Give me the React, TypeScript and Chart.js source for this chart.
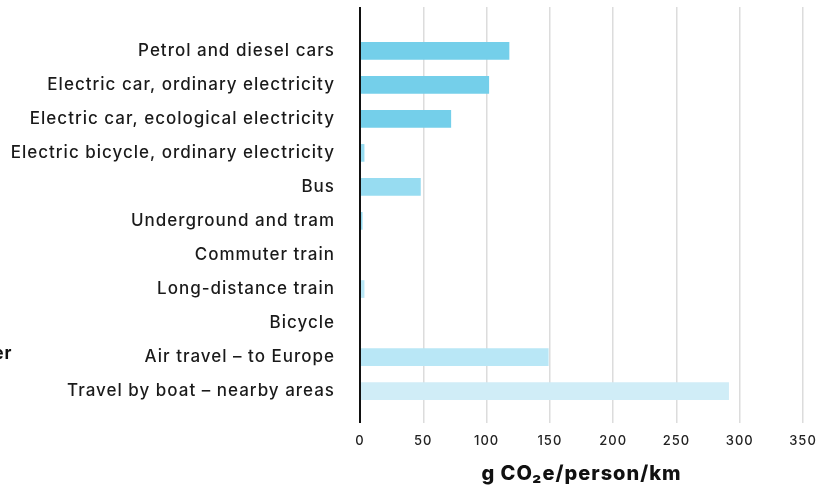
import React, { useEffect, useRef } from "react";
import { Chart, registerables } from "chart.js";

Chart.register(...registerables);

const categories = [
  "Petrol and diesel cars",
  "Electric car, ordinary electricity",
  "Electric car, ecological electricity",
  "Electric bicycle, ordinary electricity",
  "Bus",
  "Underground and tram",
  "Commuter train",
  "Long-distance train",
  "Bicycle",
  "Air travel – to Europe",
  "Travel by boat – nearby areas",
];

const emissions = [118, 102, 72, 3.5, 48, 2, 0, 3.5, 0, 149, 291.5];

const barColors = [
  "#74CFEA", "#74CFEA", "#74CFEA", "#97DCF1", "#97DCF1", "#97DCF1",
  "#B9E7F6", "#B9E7F6", "#B9E7F6", "#B9E7F6", "#D0EDF7",
];

const xTicks = [0, 50, 100, 150, 200, 250, 300, 350];
const axisTitle = "g CO₂e/person/km";
const sideText = "er";

const FONT = "Inter, 'Noto Sans', sans-serif";

export default function App() {
  const canvasRef = useRef<HTMLCanvasElement | null>(null);

  useEffect(() => {
    document.body.style.margin = "0";
    const canvas = canvasRef.current;
    if (!canvas) return;

    const spacingPlugin = {
      id: "spacing",
      beforeDraw(chart: any) {
        (chart.ctx as any).letterSpacing = "1px";
      },
    };

    const sideTextPlugin = {
      id: "sideText",
      afterDraw(chart: any) {
        const ctx = chart.ctx;
        const y = chart.scales.y;
        ctx.save();
        ctx.font = `700 17px ${FONT}`;
        ctx.fillStyle = "#111";
        ctx.textAlign = "right";
        ctx.textBaseline = "middle";
        ctx.fillText(sideText, 12.5, y.getPixelForValue(9) - 3);
        ctx.restore();
      },
    };

    const chart = new Chart(canvas, {
      type: "bar",
      data: {
        datasets: [
          {
            data: emissions.map((v, i) => ({ x: v, y: i })),
            backgroundColor: barColors,
            borderWidth: 0,
            categoryPercentage: 0.52,
            barPercentage: 1,
          },
        ],
      },
      options: {
        indexAxis: "y",
        responsive: true,
        maintainAspectRatio: false,
        animation: false,
        layout: { padding: { top: 7, right: 33, bottom: 4, left: 0 } },
        plugins: {
          legend: { display: false },
          tooltip: { enabled: false },
        },
        scales: {
          x: {
            type: "linear",
            min: 0,
            max: 350,
            bounds: "data",
            afterBuildTicks(scale: any) {
              scale.ticks = xTicks.map((v) => ({ value: v }));
            },
            grid: {
              color: (c: any) => (c.tick && c.tick.value === 0 ? "#111" : "#dcdcdc"),
              lineWidth: (c: any) => (c.tick && c.tick.value === 0 ? 2 : 1.5),
              tickLength: 6,
            },
            border: { display: false },
            ticks: {
              color: "#222",
              font: { family: FONT, size: 13, weight: 500 },
              padding: 10,
              maxRotation: 0,
            },
            title: {
              display: true,
              text: axisTitle,
              color: "#111",
              font: { family: FONT, size: 20, weight: 800 },
              padding: { top: 3.4, bottom: 0 },
            },
          },
          y: {
            type: "linear",
            reverse: true,
            offset: false,
            min: -1.287,
            max: 10.76,
            bounds: "data",
            afterBuildTicks(scale: any) {
              scale.ticks = categories.map((_, i) => ({ value: i }));
            },
            afterFit(scale: any) {
              scale.width = 360;
              scale.paddingTop = 0;
              scale.paddingBottom = 0;
            },
            grid: { display: false, drawTicks: false, offset: false },
            border: { display: false },
            ticks: {
              autoSkip: false,
              color: "#1a1a1a",
              font: { family: FONT, size: 17, weight: 500 },
              padding: 25,
              callback: (v: any) => categories[v as number] ?? "",
            },
          },
        },
      },
      plugins: [spacingPlugin, sideTextPlugin],
    });

    return () => chart.destroy();
  }, []);

  return (
    <div style={{ position: "relative", width: 836, height: 490 }}>
      <canvas ref={canvasRef} />
    </div>
  );
}
